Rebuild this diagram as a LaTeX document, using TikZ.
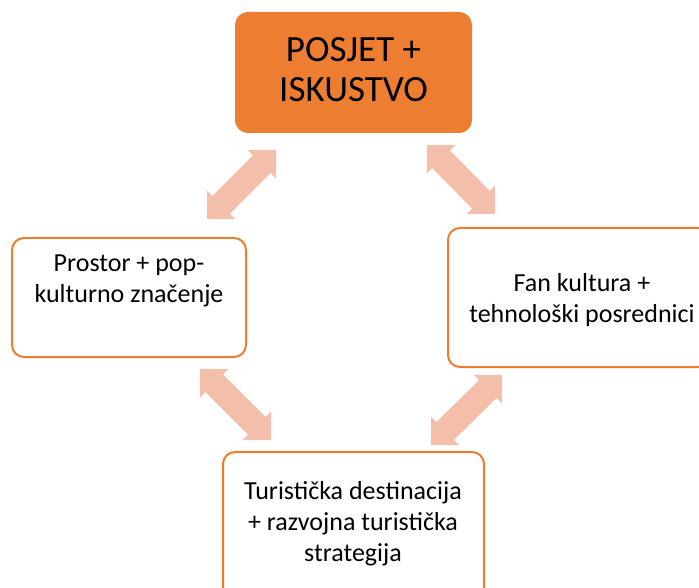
\documentclass[tikz,border=0pt]{standalone}
\usepackage{fontspec}
\setmainfont{Carlito}
\usetikzlibrary{calc}
\definecolor{acc}{HTML}{ED7D31}
\definecolor{arrowc}{HTML}{F4BFAA}
\newcommand\blockarrow[2]{%
  \coordinate (#1-b) at ($(#1)!20pt!(#2)$);
  \coordinate (#2-b) at ($(#2)!20pt!(#1)$);
  \fill[arrowc] (#1) -- ($(#1-b)!20pt!90:(#2)$) -- ($(#1-b)!12.5pt!90:(#2)$)
    -- ($(#2-b)!12.5pt!-90:(#1)$) -- ($(#2-b)!20pt!-90:(#1)$) -- (#2)
    -- ($(#2-b)!20pt!90:(#1)$) -- ($(#2-b)!12.5pt!90:(#1)$)
    -- ($(#1-b)!12.5pt!-90:(#2)$) -- ($(#1-b)!20pt!-90:(#2)$) -- cycle;}
\begin{document}
\begin{tikzpicture}[x=1pt,y=-1pt,
  box/.style={draw=acc, line width=2pt, rounded corners=12pt, fill=white, inner sep=0pt},
  lbl/.style={align=center, font=\fontsize{26}{31}\selectfont, inner sep=0pt, text=black}]
\useasboundingbox (0,0) rectangle (699,588);
\clip (0,0) rectangle (699,588);
% boxes
\node[box, fill=acc, minimum width=235pt, minimum height=119pt] (top) at (353.5,72.5) {};
\node[align=center, font=\fontsize{37}{40}\selectfont, inner sep=0pt] (toptxt) at (353.5,70) {POSJET +\\ISKUSTVO};
\node[box, minimum width=234pt, minimum height=119pt] (left) at (129,297.5) {};
\node[lbl] (lefttxt) at (129,281) {Prostor + pop-\\kulturno značenje};
\node[box, minimum width=262pt, minimum height=139pt] (right) at (579,297.5) {};
\node[lbl] (righttxt) at (582,300) {Fan kultura +\\tehnološki posrednici};
\node[box, minimum width=261pt, minimum height=150pt] (bottom) at (353.5,527) {};
\node[lbl] (bottomtxt) at (353,524) {Turistička destinacija\\+ razvojna turistička\\strategija};
% arrows
\coordinate (a1) at (207,219); \coordinate (a2) at (276,150);
\coordinate (b1) at (427,145); \coordinate (b2) at (495,214);
\coordinate (c1) at (200,369); \coordinate (c2) at (271,440);
\coordinate (d1) at (431,445); \coordinate (d2) at (502,375);
\blockarrow{a1}{a2}
\blockarrow{b1}{b2}
\blockarrow{c1}{c2}
\blockarrow{d1}{d2}
\end{tikzpicture}
\end{document}
